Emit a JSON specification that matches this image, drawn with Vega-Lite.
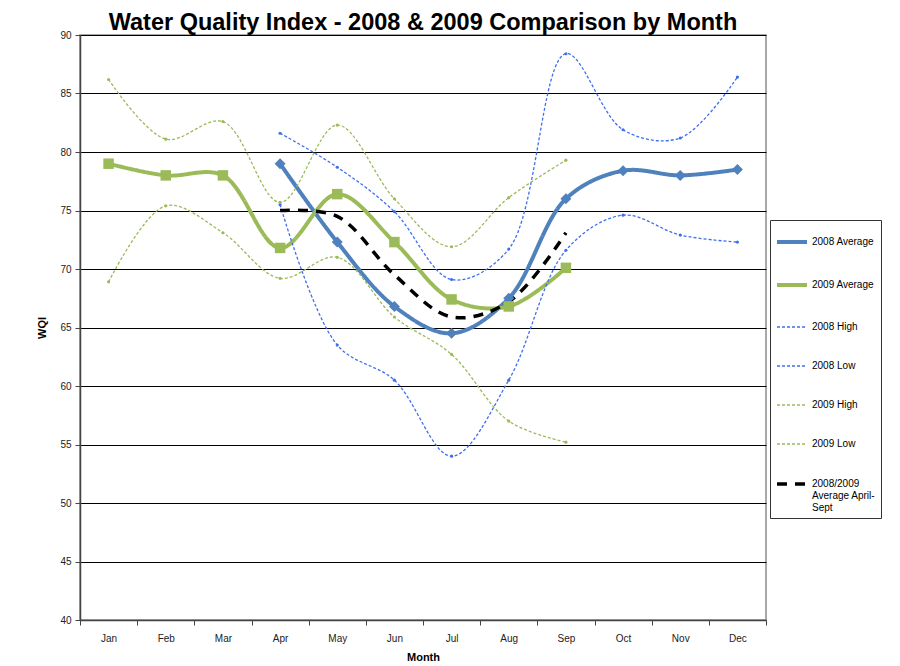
{
  "$schema": "https://vega.github.io/schema/vega-lite/v6.json",
  "width": 686,
  "height": 585,
  "autosize": {"type": "none"},
  "padding": {"left": 80, "top": 35, "right": 134, "bottom": 46},
  "background": "white",
  "config": {"font": "Liberation Sans", "view": {"stroke": "#8c8c8c", "strokeWidth": 1.5}},
  "title": {"text": "Water Quality Index - 2008 & 2009 Comparison by Month", "font": "Liberation Sans", "fontSize": 23.5, "fontWeight": "bold", "color": "#000", "offset": -4, "anchor": "middle"},
  "data": {"values": [
    {"month": "Apr", "series": "2008 Average", "wqi": 79.0},
    {"month": "May", "series": "2008 Average", "wqi": 72.3},
    {"month": "Jun", "series": "2008 Average", "wqi": 66.8},
    {"month": "Jul", "series": "2008 Average", "wqi": 64.5},
    {"month": "Aug", "series": "2008 Average", "wqi": 67.5},
    {"month": "Sep", "series": "2008 Average", "wqi": 76.0},
    {"month": "Oct", "series": "2008 Average", "wqi": 78.4},
    {"month": "Nov", "series": "2008 Average", "wqi": 78.0},
    {"month": "Dec", "series": "2008 Average", "wqi": 78.5},
    {"month": "Jan", "series": "2009 Average", "wqi": 79.0},
    {"month": "Feb", "series": "2009 Average", "wqi": 78.0},
    {"month": "Mar", "series": "2009 Average", "wqi": 78.0},
    {"month": "Apr", "series": "2009 Average", "wqi": 71.8},
    {"month": "May", "series": "2009 Average", "wqi": 76.4},
    {"month": "Jun", "series": "2009 Average", "wqi": 72.3},
    {"month": "Jul", "series": "2009 Average", "wqi": 67.4},
    {"month": "Aug", "series": "2009 Average", "wqi": 66.8},
    {"month": "Sep", "series": "2009 Average", "wqi": 70.1},
    {"month": "Apr", "series": "2008 High", "wqi": 81.6},
    {"month": "May", "series": "2008 High", "wqi": 78.7},
    {"month": "Jun", "series": "2008 High", "wqi": 74.9},
    {"month": "Jul", "series": "2008 High", "wqi": 69.1},
    {"month": "Aug", "series": "2008 High", "wqi": 71.7},
    {"month": "Sep", "series": "2008 High", "wqi": 88.4},
    {"month": "Oct", "series": "2008 High", "wqi": 81.9},
    {"month": "Nov", "series": "2008 High", "wqi": 81.2},
    {"month": "Dec", "series": "2008 High", "wqi": 86.4},
    {"month": "Apr", "series": "2008 Low", "wqi": 75.5},
    {"month": "May", "series": "2008 Low", "wqi": 63.5},
    {"month": "Jun", "series": "2008 Low", "wqi": 60.5},
    {"month": "Jul", "series": "2008 Low", "wqi": 54.0},
    {"month": "Aug", "series": "2008 Low", "wqi": 60.5},
    {"month": "Sep", "series": "2008 Low", "wqi": 71.6},
    {"month": "Oct", "series": "2008 Low", "wqi": 74.6},
    {"month": "Nov", "series": "2008 Low", "wqi": 72.9},
    {"month": "Dec", "series": "2008 Low", "wqi": 72.3},
    {"month": "Jan", "series": "2009 High", "wqi": 86.2},
    {"month": "Feb", "series": "2009 High", "wqi": 81.1},
    {"month": "Mar", "series": "2009 High", "wqi": 82.6},
    {"month": "Apr", "series": "2009 High", "wqi": 75.7},
    {"month": "May", "series": "2009 High", "wqi": 82.3},
    {"month": "Jun", "series": "2009 High", "wqi": 76.0},
    {"month": "Jul", "series": "2009 High", "wqi": 71.9},
    {"month": "Aug", "series": "2009 High", "wqi": 76.1},
    {"month": "Sep", "series": "2009 High", "wqi": 79.3},
    {"month": "Jan", "series": "2009 Low", "wqi": 68.9},
    {"month": "Feb", "series": "2009 Low", "wqi": 75.4},
    {"month": "Mar", "series": "2009 Low", "wqi": 73.1},
    {"month": "Apr", "series": "2009 Low", "wqi": 69.2},
    {"month": "May", "series": "2009 Low", "wqi": 71.0},
    {"month": "Jun", "series": "2009 Low", "wqi": 65.9},
    {"month": "Jul", "series": "2009 Low", "wqi": 62.7},
    {"month": "Aug", "series": "2009 Low", "wqi": 57.0},
    {"month": "Sep", "series": "2009 Low", "wqi": 55.2},
    {"month": "Apr", "series": "2008/2009 Average April-Sept", "wqi": 75.0},
    {"month": "May", "series": "2008/2009 Average April-Sept", "wqi": 74.5},
    {"month": "Jun", "series": "2008/2009 Average April-Sept", "wqi": 69.5},
    {"month": "Jul", "series": "2008/2009 Average April-Sept", "wqi": 65.9},
    {"month": "Aug", "series": "2008/2009 Average April-Sept", "wqi": 67.2},
    {"month": "Sep", "series": "2008/2009 Average April-Sept", "wqi": 73.1}
  ]},
  "encoding": {
    "x": {
      "field": "month", "type": "ordinal",
      "sort": ["Jan", "Feb", "Mar", "Apr", "May", "Jun", "Jul", "Aug", "Sep", "Oct", "Nov", "Dec"],
      "scale": {"type": "band", "paddingInner": 0, "paddingOuter": 0, "domain": ["Jan", "Feb", "Mar", "Apr", "May", "Jun", "Jul", "Aug", "Sep", "Oct", "Nov", "Dec"]},
      "axis": {"title": "Month", "titleFontSize": 11, "titleFontWeight": "bold", "titleColor": "#000", "titlePadding": 8, "labelAngle": 0, "labelFontSize": 10, "labelColor": "#222", "labelPadding": 8, "tickBand": "extent", "tickSize": 5, "tickColor": "#444", "domainColor": "#444", "domainWidth": 1.5, "grid": false}
    },
    "y": {
      "field": "wqi", "type": "quantitative",
      "scale": {"domain": [40, 90], "nice": false, "zero": false},
      "axis": {"title": "WQI", "titleFontSize": 11, "titleFontWeight": "bold", "titleColor": "#000", "titlePadding": 12, "values": [40, 45, 50, 55, 60, 65, 70, 75, 80, 85, 90], "labelFontSize": 10, "labelColor": "#222", "labelPadding": 4, "tickSize": 5, "tickColor": "#444", "domainColor": "#444", "domainWidth": 1.5, "grid": true, "gridColor": "#000", "gridWidth": 1.2}
    }
  },
  "layer": [
    {
      "mark": {"type": "line", "interpolate": "catmull-rom"},
      "encoding": {
        "color": {"field": "series", "type": "nominal",
          "scale": {"domain": ["2008 Average", "2009 Average", "2008 High", "2008 Low", "2009 High", "2009 Low", "2008/2009 Average April-Sept"], "range": ["#4f81bd", "#9bbb59", "#3d6ff0", "#3d6ff0", "#9bbb59", "#9bbb59", "#000000"]},
          "legend": {"orient": "none", "legendX": 690, "legendY": 185, "title": null, "strokeColor": "#333", "fillColor": "white", "padding": 5, "labelFontSize": 10, "labelColor": "#000", "labelLimit": 130, "labelOffset": 3, "rowPadding": 18, "symbolSize": 900, "symbolType": "stroke", "gridAlign": "each",
            "labelExpr": "datum.label == '2008/2009 Average April-Sept' ? ['2008/2009', 'Average April-', 'Sept'] : datum.label"}},
        "strokeDash": {"field": "series", "type": "nominal",
          "scale": {"domain": ["2008 Average", "2009 Average", "2008 High", "2008 Low", "2009 High", "2009 Low", "2008/2009 Average April-Sept"], "range": [[1, 0], [1, 0], [3, 2], [3, 2], [3, 2], [3, 2], [10, 8]]}},
        "strokeWidth": {"field": "series", "type": "ordinal",
          "scale": {"type": "ordinal", "domain": ["2008 Average", "2009 Average", "2008 High", "2008 Low", "2009 High", "2009 Low", "2008/2009 Average April-Sept"], "range": [4, 4, 1.3, 1.3, 1.3, 1.3, 3.5]}}
      }
    },
    {
      "mark": {"type": "point", "filled": true, "opacity": 1},
      "transform": [{"filter": "datum.series != '2008/2009 Average April-Sept'"}],
      "encoding": {
        "color": {"field": "series", "type": "nominal", "legend": null,
          "scale": {"domain": ["2008 Average", "2009 Average", "2008 High", "2008 Low", "2009 High", "2009 Low", "2008/2009 Average April-Sept"], "range": ["#4f81bd", "#9bbb59", "#3d6ff0", "#3d6ff0", "#9bbb59", "#9bbb59", "#000000"]}},
        "shape": {"field": "series", "type": "nominal", "legend": null,
          "scale": {"domain": ["2008 Average", "2009 Average", "2008 High", "2008 Low", "2009 High", "2009 Low"], "range": ["diamond", "square", "circle", "circle", "circle", "circle"]}},
        "size": {"field": "series", "type": "ordinal", "legend": null,
          "scale": {"type": "ordinal", "domain": ["2008 Average", "2009 Average", "2008 High", "2008 Low", "2009 High", "2009 Low"], "range": [120, 110, 10, 10, 10, 10]}}
      }
    }
  ]
}
